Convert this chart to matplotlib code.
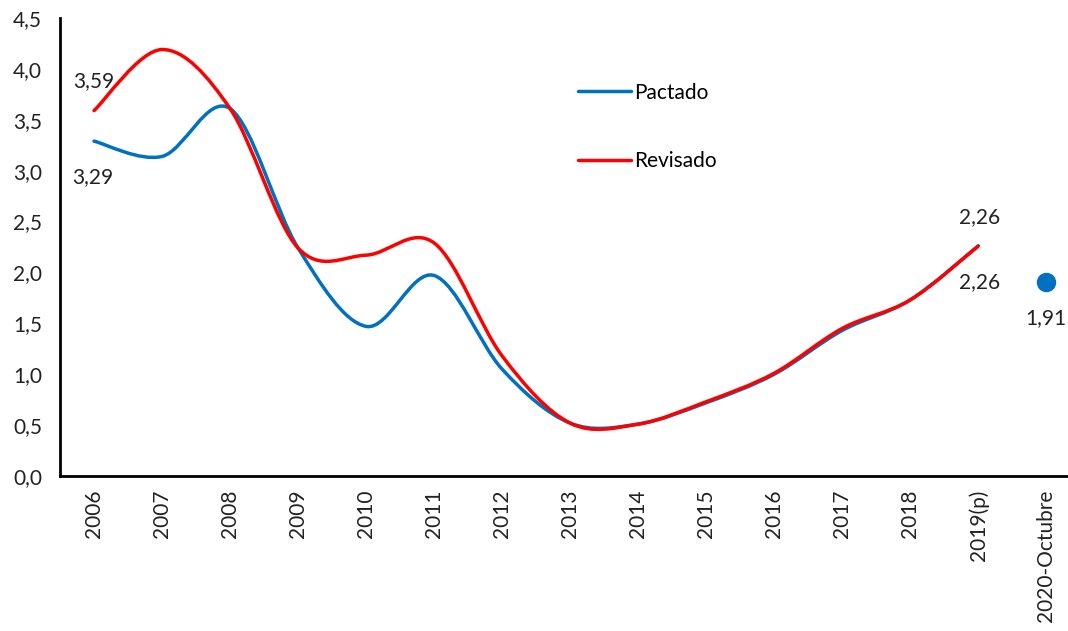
import matplotlib.pyplot as plt
import numpy as np
from matplotlib.path import Path
from matplotlib.patches import PathPatch
from matplotlib.lines import Line2D

plt.rcParams['font.family'] = ['Lato', 'DejaVu Sans']

categorias = ['2006', '2007', '2008', '2009', '2010', '2011', '2012', '2013',
              '2014', '2015', '2016', '2017', '2018', '2019(p)', '2020-Octubre']
pactado = [3.29, 3.14, 3.61, 2.24, 1.47, 1.97, 1.05, 0.52, 0.51, 0.72, 1.0, 1.43, 1.73, 2.26]
revisado = [3.59, 4.19, 3.61, 2.24, 2.17, 2.29, 1.18, 0.52, 0.51, 0.73, 1.01, 1.45, 1.73, 2.26]
octubre_2020 = 1.91

AZUL = '#0070C0'
ROJO = '#FF0000'
FS = 15


def curva_suave(ax, y, color):
    # curva tipo Excel: bezier con puntos de control Catmull-Rom
    x = np.arange(len(y), dtype=float)
    y = np.asarray(y, dtype=float)
    pts = np.column_stack([x, y])
    verts = [pts[0]]
    codes = [Path.MOVETO]
    n = len(pts)
    for i in range(n - 1):
        p0 = pts[max(i - 1, 0)]
        p1 = pts[i]
        p2 = pts[i + 1]
        p3 = pts[min(i + 2, n - 1)]
        c1 = p1 + (p2 - p0) / 6.0
        c2 = p2 - (p3 - p1) / 6.0
        verts += [c1, c2, p2]
        codes += [Path.CURVE4] * 3
    patch = PathPatch(Path(verts, codes), facecolor='none', edgecolor=color,
                      lw=2.5, capstyle='round', joinstyle='round')
    ax.add_patch(patch)


fig = plt.figure(figsize=(10.68, 6.31), dpi=100)
ax = fig.add_axes([0.0562, 0.2456, 0.9438, 0.7259])

curva_suave(ax, pactado, AZUL)
curva_suave(ax, revisado, ROJO)
ax.plot([14], [octubre_2020], 'o', color=AZUL, ms=13)

ax.set_xlim(-0.5, 14.32)
ax.set_ylim(0, 4.5)
ax.set_yticks(np.arange(0, 4.51, 0.5))
ax.set_yticklabels([('%.1f' % v).replace('.', ',') for v in np.arange(0, 4.51, 0.5)])
ax.set_xticks(range(len(categorias)))
ax.set_xticklabels(categorias, rotation=90)
ax.tick_params(length=0, labelsize=FS, colors='#222222', pad=10)
ax.tick_params(axis='y', pad=13)

for s in ['top', 'right']:
    ax.spines[s].set_visible(False)
for s in ['left', 'bottom']:
    ax.spines[s].set_linewidth(2)
    ax.spines[s].set_color('black')

def fmt(v):
    return ('%.2f' % v).replace('.', ',')

kw = dict(fontsize=FS, ha='center', va='center', color='#222222')
ax.annotate(fmt(revisado[0]), (0, revisado[0]), xytext=(0, 21.5), textcoords='offset points', **kw)
ax.annotate(fmt(pactado[0]), (0, pactado[0]), xytext=(-1, -26), textcoords='offset points', **kw)
ax.annotate(fmt(pactado[-1]), (13, pactado[-1]), xytext=(1, 21), textcoords='offset points', **kw)
ax.annotate(fmt(revisado[-1]), (13, revisado[-1]), xytext=(1, -26), textcoords='offset points', **kw)
ax.annotate(fmt(octubre_2020), (14, octubre_2020), xytext=(0, -26.5), textcoords='offset points', **kw)

handles = [Line2D([], [], color=AZUL, lw=2.5, solid_capstyle='round'),
           Line2D([], [], color=ROJO, lw=2.5, solid_capstyle='round')]
ax.legend(handles, ['Pactado', 'Revisado'], loc='upper left', bbox_to_anchor=(0.495, 0.90),
          frameon=False, fontsize=FS, handlelength=2.55, handletextpad=0.15, labelspacing=2.35)

fig.savefig('out.png', dpi=100)
